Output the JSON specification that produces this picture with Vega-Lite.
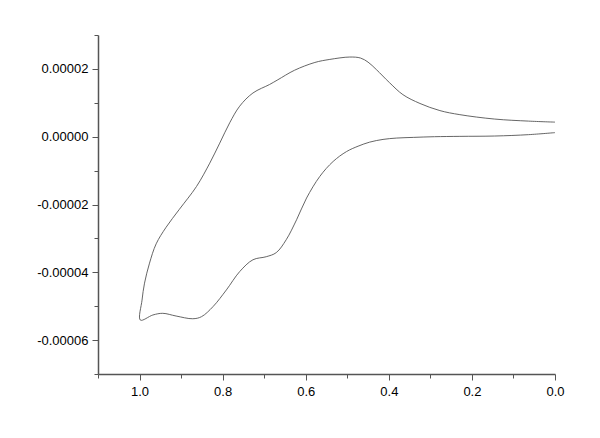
{
  "$schema": "https://vega.github.io/schema/vega-lite/v6.json",
  "width": 457,
  "height": 339,
  "autosize": "none",
  "padding": {"left": 98, "top": 35, "right": 45, "bottom": 64},
  "background": "white",
  "config": {"view": {"stroke": null}},
  "data": {"values": [
    {"o": 1, "E": 0.000, "I": 0.0000043},
    {"o": 2, "E": 0.064, "I": 0.0000046},
    {"o": 3, "E": 0.145, "I": 0.0000052},
    {"o": 4, "E": 0.229, "I": 0.0000065},
    {"o": 5, "E": 0.277, "I": 0.0000077},
    {"o": 6, "E": 0.325, "I": 0.0000098},
    {"o": 7, "E": 0.366, "I": 0.0000124},
    {"o": 8, "E": 0.398, "I": 0.0000159},
    {"o": 9, "E": 0.430, "I": 0.0000198},
    {"o": 10, "E": 0.450, "I": 0.0000220},
    {"o": 11, "E": 0.468, "I": 0.0000232},
    {"o": 12, "E": 0.494, "I": 0.0000235},
    {"o": 13, "E": 0.542, "I": 0.0000228},
    {"o": 14, "E": 0.578, "I": 0.0000219},
    {"o": 15, "E": 0.627, "I": 0.0000196},
    {"o": 16, "E": 0.667, "I": 0.0000168},
    {"o": 17, "E": 0.687, "I": 0.0000154},
    {"o": 18, "E": 0.727, "I": 0.0000129},
    {"o": 19, "E": 0.759, "I": 0.0000090},
    {"o": 20, "E": 0.783, "I": 0.0000041},
    {"o": 21, "E": 0.807, "I": -0.0000019},
    {"o": 22, "E": 0.831, "I": -0.0000078},
    {"o": 23, "E": 0.863, "I": -0.0000147},
    {"o": 24, "E": 0.904, "I": -0.0000214},
    {"o": 25, "E": 0.936, "I": -0.0000267},
    {"o": 26, "E": 0.960, "I": -0.0000316},
    {"o": 27, "E": 0.976, "I": -0.0000373},
    {"o": 28, "E": 0.988, "I": -0.0000432},
    {"o": 29, "E": 0.994, "I": -0.0000482},
    {"o": 30, "E": 0.998, "I": -0.0000541},
    {"o": 31, "E": 0.968, "I": -0.0000526},
    {"o": 32, "E": 0.944, "I": -0.0000521},
    {"o": 33, "E": 0.912, "I": -0.0000529},
    {"o": 34, "E": 0.872, "I": -0.0000537},
    {"o": 35, "E": 0.851, "I": -0.0000531},
    {"o": 36, "E": 0.823, "I": -0.0000501},
    {"o": 37, "E": 0.791, "I": -0.0000452},
    {"o": 38, "E": 0.759, "I": -0.0000398},
    {"o": 39, "E": 0.727, "I": -0.0000363},
    {"o": 40, "E": 0.695, "I": -0.0000354},
    {"o": 41, "E": 0.671, "I": -0.0000342},
    {"o": 42, "E": 0.647, "I": -0.0000304},
    {"o": 43, "E": 0.622, "I": -0.0000245},
    {"o": 44, "E": 0.598, "I": -0.0000181},
    {"o": 45, "E": 0.566, "I": -0.0000117},
    {"o": 46, "E": 0.534, "I": -0.0000073},
    {"o": 47, "E": 0.502, "I": -0.0000044},
    {"o": 48, "E": 0.474, "I": -0.0000028},
    {"o": 49, "E": 0.446, "I": -0.0000016},
    {"o": 50, "E": 0.414, "I": -0.0000008},
    {"o": 51, "E": 0.381, "I": -0.0000004},
    {"o": 52, "E": 0.340, "I": -0.0000002},
    {"o": 53, "E": 0.290, "I": 0.0000000},
    {"o": 54, "E": 0.229, "I": 0.0000001},
    {"o": 55, "E": 0.145, "I": 0.0000002},
    {"o": 56, "E": 0.064, "I": 0.0000006},
    {"o": 57, "E": 0.000, "I": 0.0000012}
  ]},
  "mark": {"type": "line", "interpolate": "catmull-rom", "color": "#555555", "strokeWidth": 0.9},
  "encoding": {
    "order": {"field": "o", "type": "quantitative"},
    "x": {
      "field": "E", "type": "quantitative",
      "scale": {"domain": [1.1, 0], "nice": false, "zero": false},
      "axis": {
        "title": null, "grid": false,
        "values": [1.1, 1.0, 0.9, 0.8, 0.7, 0.6, 0.5, 0.4, 0.3, 0.2, 0.1, 0.0],
        "format": ".1f",
        "labelExpr": "round(datum.value*10) % 2 == 0 ? datum.label : ''",
        "tickSize": {"condition": {"test": "round(datum.value*10) % 2 == 0", "value": 6}, "value": 4},
        "domainColor": "#555555", "domainWidth": 1.5,
        "tickColor": "#555555", "tickWidth": 1,
        "labelFont": "Liberation Sans", "labelFontSize": 13, "labelColor": "#000000",
        "labelPadding": 5, "labelFlush": false, "labelOverlap": false
      }
    },
    "y": {
      "field": "I", "type": "quantitative",
      "scale": {"domain": [-0.00007, 0.00003], "nice": false, "zero": false},
      "axis": {
        "title": null, "grid": false,
        "values": [-0.00007, -0.00006, -0.00005, -0.00004, -0.00003, -0.00002, -0.00001, 0, 0.00001, 0.00002, 0.00003],
        "format": ".5f",
        "labelExpr": "abs(round(datum.value*100000)) % 2 == 0 ? replace(datum.label, '\u2212', '-') : ''",
        "tickSize": {"condition": {"test": "abs(round(datum.value*100000)) % 2 == 0", "value": 6}, "value": 4},
        "domainColor": "#555555", "domainWidth": 1.5,
        "tickColor": "#555555", "tickWidth": 1,
        "labelFont": "Liberation Sans", "labelFontSize": 13, "labelColor": "#000000",
        "labelPadding": 4, "labelFlush": false, "labelOverlap": false
      }
    }
  }
}
